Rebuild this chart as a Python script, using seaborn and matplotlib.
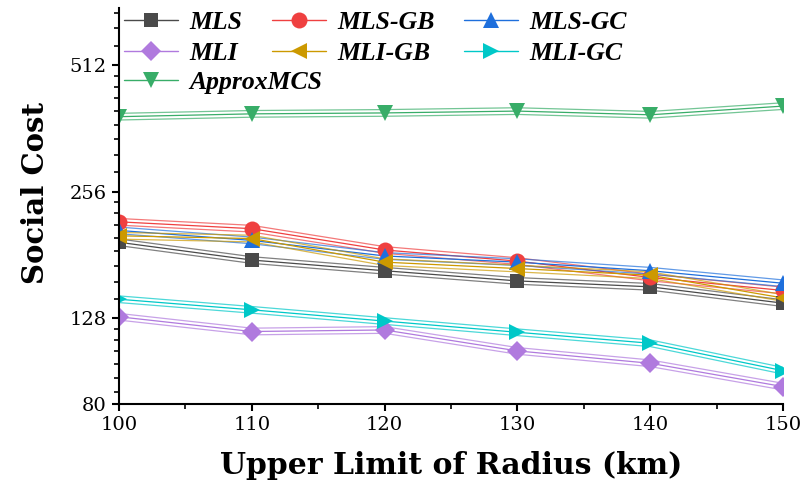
import numpy as np
import pandas as pd
import matplotlib
matplotlib.use("Agg")
import matplotlib.pyplot as plt
import seaborn as sns
from matplotlib import patheffects as pe
from matplotlib.lines import Line2D
from matplotlib.ticker import FixedLocator, NullFormatter, FixedFormatter

# ---------------- data ----------------
radius = [100, 110, 120, 130, 140, 150]
mls = [194, 176, 166, 157, 152, 139]
mls_gb = [217, 209, 186, 175, 160, 149]
mls_gc = [207, 196, 180, 174, 166, 155]
mli = [129, 119, 120, 107, 100, 88]
mli_gb = [201, 198, 174, 168, 162, 143]
mli_gc = [142, 134, 126, 118.5, 111.6, 96]
approx_mcs = [386, 392, 394, 398, 390, 409]

series_names = ["MLS", "MLS-GB", "MLS-GC", "MLI", "MLI-GB", "MLI-GC", "ApproxMCS"]
series_values = [mls, mls_gb, mls_gc, mli, mli_gb, mli_gc, approx_mcs]
y_ticks = [80, 128, 256, 512]
x_ticks = [100, 110, 120, 130, 140, 150]

# ---------------- style ----------------
colors = {"MLS": "#4a4a4a", "MLS-GB": "#ef4040", "MLS-GC": "#1e6fdc",
          "MLI": "#b07ade", "MLI-GB": "#cc9900", "MLI-GC": "#00c8c8",
          "ApproxMCS": "#38ad68"}
markers = {"MLS": "s", "MLS-GB": "o", "MLS-GC": "^", "MLI": "D",
           "MLI-GB": "<", "MLI-GC": ">", "ApproxMCS": "v"}
msizes = {"MLS": 10, "MLS-GB": 11.5, "MLS-GC": 12, "MLI": 10,
          "MLI-GB": 12, "MLI-GC": 12, "ApproxMCS": 12}

df = pd.DataFrame([
    {"radius": r, "cost": v, "series": name}
    for name, vals in zip(series_names, series_values)
    for r, v in zip(radius, vals)
])

sns.set_theme(style="ticks")
plt.rcParams["font.family"] = ["DejaVu Serif"]
plt.rcParams["text.color"] = "black"
plt.rcParams["axes.labelcolor"] = "black"
plt.rcParams["xtick.color"] = "black"
plt.rcParams["ytick.color"] = "black"

fig = plt.figure(figsize=(8.1, 4.87), dpi=100)
ax = fig.add_axes([119/810, 1-404/487, (783-119)/810, (404-8)/487])

for name in series_names:
    sub = df[df["series"] == name]
    c = colors[name]
    sns.lineplot(data=sub, x="radius", y="cost", color=c, lw=0.9, ax=ax,
                 legend=False, errorbar=None)
    line = ax.lines[-1]
    line.set_path_effects([
        pe.SimpleLineShadow(offset=(0, 2.4), shadow_color=c, alpha=0.7, rho=1.0),
        pe.SimpleLineShadow(offset=(0, -2.4), shadow_color=c, alpha=0.7, rho=1.0),
        pe.Normal()])
for name in series_names:
    sub = df[df["series"] == name]
    c = colors[name]
    sns.lineplot(data=sub, x="radius", y="cost", color=c, ax=ax, legend=False,
                 errorbar=None, linestyle="none", marker=markers[name],
                 markersize=msizes[name], markeredgewidth=0)
    ax.lines[-1].set_clip_path(ax.patch)

ax.set_yscale("log", base=2)
ax.set_ylim(80, 700)
ax.set_xlim(100, 150)

# ticks
ax.yaxis.set_major_locator(FixedLocator(y_ticks))
ax.yaxis.set_major_formatter(FixedFormatter([str(t) for t in y_ticks]))
minor = []
for lo, hi in [(64, 128), (128, 256), (256, 512), (512, 1024)]:
    step = (hi - lo) / 9
    minor += [lo + k * step for k in range(1, 9)]
minor = [m for m in minor if 80 < m < 700]
ax.yaxis.set_minor_locator(FixedLocator(minor))
ax.yaxis.set_minor_formatter(NullFormatter())
ax.xaxis.set_major_locator(FixedLocator(x_ticks))
ax.xaxis.set_minor_locator(FixedLocator([105, 115, 125, 135, 145]))

for s in ["top", "right"]:
    ax.spines[s].set_visible(False)
for s in ["left", "bottom"]:
    ax.spines[s].set_linewidth(1.5)
    ax.spines[s].set_color("black")
    ax.spines[s].set_zorder(5)
ax.tick_params(which="major", direction="out", length=5, width=1.5,
               labelsize=14, colors="black", pad=4)
ax.tick_params(which="minor", direction="out", length=3.5, width=1.2, colors="black")

ax.set_xlabel("Upper Limit of Radius (km)", fontsize=21.5, fontweight="bold",
              family="DejaVu Serif", labelpad=12, color="black")
ax.set_ylabel("Social Cost", fontsize=21, fontweight="bold",
              family="DejaVu Serif", color="black")
ax.yaxis.set_label_coords(-0.104, 0.533)

# legends
def handle(name):
    return Line2D([], [], color=colors[name], lw=1.0, marker=markers[name],
                  markersize=msizes[name], markeredgewidth=0)

order = ["MLS", "MLI", "MLS-GB", "MLI-GB", "MLS-GC", "MLI-GC"]
leg_font = {"family": "Liberation Serif", "weight": "bold", "style": "italic", "size": 18.5}
leg1 = ax.legend([handle(n) for n in order], order, ncol=3, frameon=False,
                 loc="upper left", bbox_to_anchor=(0.0, 1.005), borderaxespad=0.0,
                 borderpad=0.2, handlelength=2.1, handletextpad=0.44,
                 columnspacing=1.15, labelspacing=0.3, prop=leg_font,
                 labelcolor="black")
ax.add_artist(leg1)
leg2 = ax.legend([handle("ApproxMCS")], ["ApproxMCS"], frameon=False,
                 loc="upper left", bbox_to_anchor=(0.0, 0.855), borderaxespad=0.0,
                 borderpad=0.2, handlelength=2.1, handletextpad=0.44,
                 prop=leg_font, labelcolor="black")

fig.savefig("out.png", dpi=100)
